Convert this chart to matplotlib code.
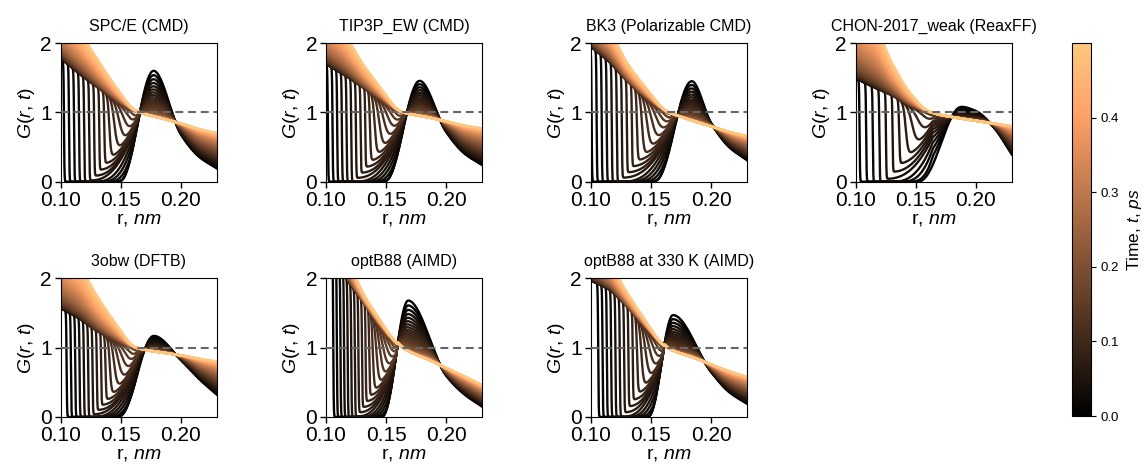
import numpy as np
import matplotlib
matplotlib.use("Agg")
import matplotlib.pyplot as plt
from matplotlib.cm import ScalarMappable
from matplotlib.colors import Normalize

plt.rcParams["font.family"] = ["Liberation Sans", "DejaVu Sans"]
plt.rcParams["mathtext.fontset"] = "custom"
plt.rcParams["mathtext.it"] = "Liberation Sans:italic"
plt.rcParams["mathtext.rm"] = "Liberation Sans"

TITLES = ["SPC/E (CMD)", "TIP3P_EW (CMD)", "BK3 (Polarizable CMD)",
          "CHON-2017_weak (ReaxFF)", "3obw (DFTB)", "optB88 (AIMD)",
          "optB88 at 330 K (AIMD)"]

# one curve every 0.01 ps
TIMES = np.round(np.arange(0.0, 0.505, 0.01), 2)
T_MAX = 0.5

# t = 0 curve (darkest line): onset, peak, right flank
ONSET_R = [0.148, 0.148, 0.152, 0.151, 0.147, 0.146, 0.147]
PEAK_R = [0.1772, 0.178, 0.184, 0.188, 0.1774, 0.1685, 0.1684]
PEAK_G = [1.60, 1.455, 1.45, 1.08, 1.17, 1.68, 1.47]
G0_200 = [0.68, 0.72, 0.85, 1.02, 0.82, 0.60, 0.65]
G0_215 = [0.36, 0.41, 0.50, 0.78, 0.55, 0.33, 0.36]
G0_230 = [0.19, 0.24, 0.31, 0.39, 0.32, 0.15, 0.19]

# last curve (t = 0.5 ps, lightest line)
R_LATE = [0.100, 0.115, 0.130, 0.145, 0.165, 0.185, 0.200, 0.215, 0.230]
LATE = [
    [2.45, 2.17, 1.78, 1.40, 1.01, 0.91, 0.84, 0.76, 0.70],
    [2.45, 2.15, 1.72, 1.38, 1.00, 0.93, 0.87, 0.81, 0.77],
    [2.50, 2.20, 1.72, 1.38, 1.01, 0.88, 0.80, 0.72, 0.66],
    [2.60, 2.30, 1.72, 1.30, 0.99, 0.92, 0.88, 0.84, 0.80],
    [2.50, 2.20, 1.75, 1.38, 0.99, 0.93, 0.89, 0.84, 0.80],
    [2.90, 2.45, 1.82, 1.42, 0.99, 0.83, 0.71, 0.59, 0.46],
    [2.60, 2.25, 1.80, 1.42, 0.99, 0.86, 0.76, 0.66, 0.58],
]

# lower edge of the band, where the early fronts start
R_ENV = [0.100, 0.115, 0.130, 0.145, 0.165]
ENV = [
    [1.78, 1.56, 1.36, 1.18, 1.00],
    [1.70, 1.54, 1.36, 1.19, 0.99],
    [1.95, 1.73, 1.45, 1.22, 1.00],
    [1.49, 1.36, 1.24, 1.10, 0.99],
    [1.57, 1.42, 1.23, 1.10, 0.99],
    [2.60, 2.05, 1.68, 1.33, 0.99],
    [1.97, 1.84, 1.59, 1.31, 0.99],
]

# crossing point of all curves, first front and front spacing per step
PIVOT_R = [0.166, 0.165, 0.169, 0.164, 0.165, 0.163, 0.164]
FRONT_R0 = [0.1025, 0.1015, 0.1005, 0.103, 0.1047, 0.106, 0.106]
FRONT_STEP = [0.0042, 0.0039, 0.0042, 0.0055, 0.0036, 0.0030, 0.0036]
PEAK_RATE = [5, 5, 5, 9, 6, 5, 6]
TAIL_RATE = 1.5


def pchip(xk, yk, x, m0=None):
    xk = np.asarray(xk, float)
    yk = np.asarray(yk, float)
    h = np.diff(xk)
    d = np.diff(yk) / h
    m = np.zeros_like(yk)
    for i in range(1, len(xk) - 1):
        if d[i - 1] * d[i] > 0:
            w1 = 2 * h[i] + h[i - 1]
            w2 = h[i] + 2 * h[i - 1]
            m[i] = (w1 + w2) / (w1 / d[i - 1] + w2 / d[i])
    m[0] = d[0] if m0 is None else m0
    m[-1] = d[-1]
    idx = np.clip(np.searchsorted(xk, x) - 1, 0, len(h) - 1)
    s = (x - xk[idx]) / h[idx]
    return ((2 * s**3 - 3 * s**2 + 1) * yk[idx] + (s**3 - 2 * s**2 + s) * h[idx] * m[idx]
            + (-2 * s**3 + 3 * s**2) * yk[idx + 1] + (s**3 - s**2) * h[idx] * m[idx + 1])


def t0_curve(r, i):
    g = np.zeros_like(r)
    left = (r > ONSET_R[i]) & (r <= PEAK_R[i])
    u = (r[left] - ONSET_R[i]) / (PEAK_R[i] - ONSET_R[i])
    g[left] = PEAK_G[i] * (0.5 - 0.5 * np.cos(np.pi * u))**1.15
    right = r > PEAK_R[i]
    g[right] = pchip([PEAK_R[i], 0.200, 0.215, 0.230],
                     [PEAK_G[i], G0_200[i], G0_215[i], G0_230[i]], r[right], m0=0.0)
    return g


r = np.linspace(0.10, 0.23, 2000)
cmap = plt.cm.copper
norm = Normalize(0, T_MAX)

fig = plt.figure(figsize=(11.48, 4.69), dpi=100)
lefts = [0.0531, 0.2840, 0.5148, 0.7456]
bottoms = [0.6126, 0.1109]

for i, title in enumerate(TITLES):
    row, col = divmod(i, 4)
    ax = fig.add_axes([lefts[col], bottoms[row], 0.1359, 0.2955])
    late = pchip(R_LATE, LATE[i], r)
    env = np.where(r <= R_ENV[-1], pchip(R_ENV, ENV[i], r), late)
    g0 = t0_curve(r, i)
    n_r = np.where(r <= PEAK_R[i], PEAK_RATE[i],
                   TAIL_RATE + (PEAK_RATE[i] - TAIL_RATE) * np.exp(-((r - PEAK_R[i]) / 0.02)**2))
    rc, r0, step, onset = PIVOT_R[i], FRONT_R0[i], FRONT_STEP[i], ONSET_R[i]

    for k, t in enumerate(TIMES):
        tau = t / T_MAX
        c = 1 - (1 - tau)**n_r
        g_dec = g0 + np.minimum(0, late - g0) * c
        v_right = g0 + (late - g0) * c
        pv = np.interp(rc, r, v_right)

        # moving front on the left, gap behind it fills in
        rf_free = r0 + step * k
        rf = min(rf_free, rc)
        phi = (rf_free - r0) / (rc - r0)
        ph1 = min(phi, 1.0)
        m = min(np.interp(rf, r, env) * np.clip((phi - 0.3) / 0.7, 0, 1)**1.4, pv)
        a = max(rf, onset - (onset - r0) * 1.6 * phi)
        q = 3.5 * (1.2 / 3.5)**ph1
        if rc - a > 1e-6:
            x = np.clip((r - a) / (rc - a), 0, 1)
            fan = m + (pv - m) * x**q
        else:
            fan = np.full_like(r, m)
        v = np.where(r < rc, np.maximum(g_dec, fan), v_right)
        u = env + tau**2.0 * (late - env)
        w = 0.0002 + 0.006 * np.clip((phi - 0.5) / 0.5, 0, 1)**1.5
        s = 0.5 * (1 - np.tanh((r - rf) / (2 * w)))
        G = s * u + (1 - s) * v
        ax.plot(r, G, color=cmap(norm(t)), lw=1.7)

    ax.axhline(1.0, ls=(0, (3.8, 2.3)), color="0.4", lw=1.5, zorder=5)
    ax.set_xlim(0.10, 0.23)
    ax.set_ylim(0, 2)
    ax.set_xticks([0.10, 0.15, 0.20])
    ax.set_xticklabels(["0.10", "0.15", "0.20"])
    ax.set_yticks([0, 1, 2])
    ax.tick_params(direction="out", length=4.5, width=1, labelsize=15, pad=2)
    ax.set_title(title, fontsize=11.5, pad=9)
    ax.set_xlabel("r, $nm$", fontsize=14, labelpad=1)
    ax.set_ylabel(r"$G(r,\, t)$", fontsize=14, labelpad=2)

cax = fig.add_axes([0.9338, 0.113, 0.0166, 0.795])
cb = fig.colorbar(ScalarMappable(norm=norm, cmap=cmap), cax=cax)
cb.set_ticks([0.0, 0.1, 0.2, 0.3, 0.4])
cb.set_ticklabels(["0.0", "0.1", "0.2", "0.3", "0.4"])
cb.ax.tick_params(labelsize=9.5, length=3.5, width=0.8)
cb.outline.set_linewidth(0.8)
cb.set_label("Time, $t$, $ps$", fontsize=12.5)

fig.savefig("out.png", dpi=100)
